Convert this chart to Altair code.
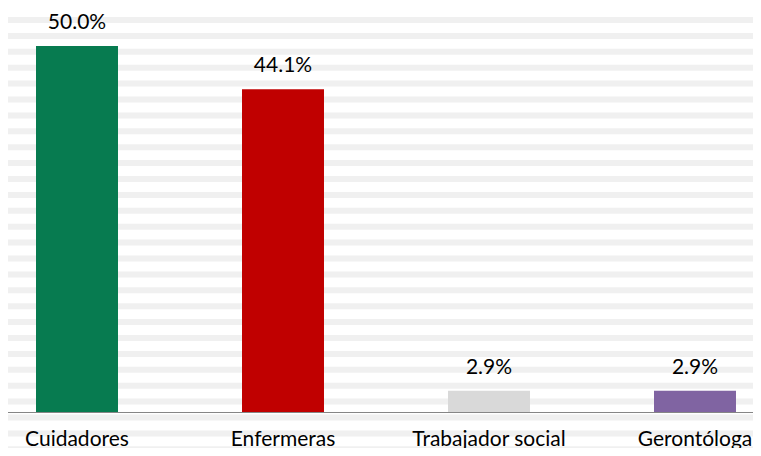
import altair as alt
import pandas as pd

categories = ["Cuidadores", "Enfermeras", "Trabajador social", "Gerontóloga"]
values = [50.0, 44.1, 2.9, 2.9]
colors = ["#077B50", "#C00000", "#D9D9D9", "#8064A2"]
stripe_index = list(range(29))

bars_df = pd.DataFrame({"cat": categories, "value": values})
stripes_df = pd.DataFrame({"k": stripe_index})

W, H = 745, 404

stripes = alt.Chart(stripes_df).mark_rule(strokeWidth=6, color="#f0f0f0").encode(
    y=alt.Y("k:Q", scale=alt.Scale(domain=[0, 28], range=[-3.9, -3.9 + 15.9 * 28], zero=False, nice=False), axis=None)
)

xenc = alt.X(
    "cat:N",
    sort=categories,
    scale=alt.Scale(domain=categories, range=[-34, 790], paddingInner=0.602, paddingOuter=0.301),
    axis=alt.Axis(
        title=None, labelAngle=0, ticks=False, tickSize=0, grid=False,
        domainColor="#868686", domainWidth=1, zindex=1,
        labelFont="Lato", labelFontSize=21, labelColor="#000000",
        labelBaseline="alphabetic", labelPadding=33,
    ),
)
yenc = alt.Y("value:Q", scale=alt.Scale(domain=[0, 55.19], nice=False), axis=None)

bars = alt.Chart(bars_df).mark_bar().encode(
    x=xenc,
    y=yenc,
    color=alt.Color("cat:N", scale=alt.Scale(domain=categories, range=colors), legend=None),
)

texts = alt.Chart(bars_df).transform_calculate(
    label="format(datum.value, '.1f') + '%'"
).mark_text(dy=-17, baseline="alphabetic", fontSize=21, font="Lato", color="#000000").encode(
    x=alt.X("cat:N", sort=categories),
    y=alt.Y("value:Q"),
    text="label:N",
)

chart = alt.layer(stripes, alt.layer(bars, texts)).resolve_scale(y="independent").properties(
    width=W, height=H,
    autosize=alt.AutoSizeParams(type="none"),
    padding={"left": 0, "top": 0, "right": 0, "bottom": 36},
).configure_view(stroke=None)

chart.save("out.html", embed_options={"renderer": "svg", "actions": False})
